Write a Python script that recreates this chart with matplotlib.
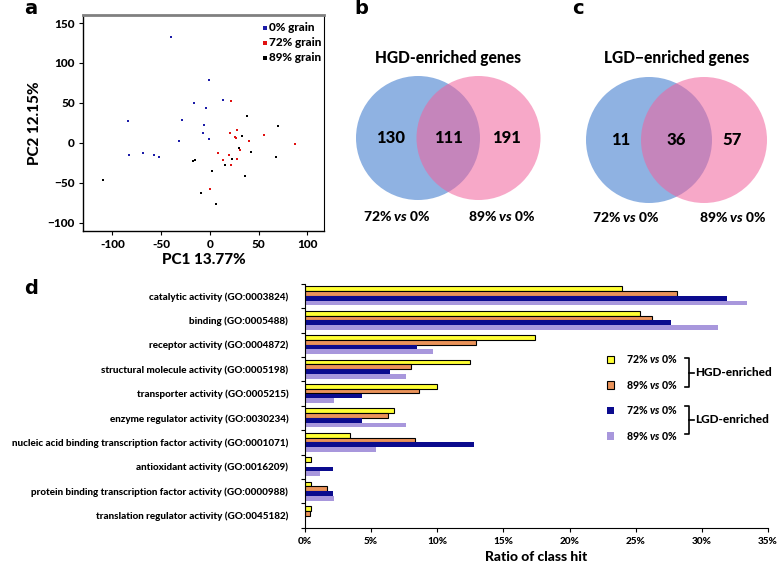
import numpy as np
import matplotlib
matplotlib.use('Agg')
import matplotlib.pyplot as plt
from matplotlib.patches import Circle
from matplotlib.lines import Line2D

# шрифты
plt.rcParams['font.family'] = ['Lato', 'DejaVu Sans']
plt.rcParams['font.weight'] = 'bold'
plt.rcParams['axes.labelweight'] = 'bold'
plt.rcParams['mathtext.fontset'] = 'custom'
plt.rcParams['mathtext.rm'] = 'Lato:black'
plt.rcParams['mathtext.bfit'] = 'Lato:italic:black'

HEAVY = 'black'

# ---- данные панели a (PCA) ----
blue_x = [-40, -1, -16, 13, -4, -29, -6, -7, -1, -32, -84, -83, -69, -57, -52]
blue_y = [132, 79, 50, 54, 44, 29, 23, 12, 5, 3, 27, -15, -12, -15, -18]
red_x = [22, 21, 28, 26, 27, 40, 8, 13, 20, 22, 31, 28, 0, 55, 87]
red_y = [53, 13, 16, 8, 6, 2, -12, -21, -15, -27, -9, -20, -58, 10, -1]
black_x = [38, 70, 33, 30, 42, 23, 16, 2, -17, -15, 68, 36, -9, 6, -110]
black_y = [34, 21, 9, -6, -11, -20, -28, -35, -23, -21, -17, -41, -63, -76, -46]
pca_xticks = [-100, -50, 0, 50, 100]
pca_xticklabels = ['-100', '-50', '0', '50', '100']
pca_yticks = [-100, -50, 0, 50, 100, 150]
pca_yticklabels = ['\u2212100', '\u221250', '0', '50', '100', '150']

# ---- данные диаграмм Венна ----
hgd_counts = [130, 111, 191]
lgd_counts = [11, 36, 57]

# ---- данные панели d ----
categories = [
    'catalytic activity (GO:0003824)',
    'binding (GO:0005488)',
    'receptor activity (GO:0004872)',
    'structural molecule activity (GO:0005198)',
    'transporter activity (GO:0005215)',
    'enzyme regulator activity (GO:0030234)',
    'nucleic acid binding transcription factor activity (GO:0001071)',
    'antioxidant activity (GO:0016209)',
    'protein binding transcription factor activity (GO:0000988)',
    'translation regulator activity (GO:0045182)',
]
hgd_72 = [24.0, 25.3, 17.4, 12.5, 10.0, 6.7, 3.4, 0.45, 0.45, 0.45]
hgd_89 = [28.1, 26.2, 12.9, 8.0, 8.6, 6.3, 8.3, 0.0, 1.7, 0.35]
lgd_72 = [31.9, 27.7, 8.5, 6.4, 4.3, 4.3, 12.8, 2.1, 2.1, 0.0]
lgd_89 = [33.4, 31.2, 9.7, 7.6, 2.2, 7.6, 5.4, 1.1, 2.2, 0.0]
xticks_d = [0, 5, 10, 15, 20, 25, 30, 35]

vs_label_72 = r'72% $\mathbfit{vs}$ 0%'
vs_label_89 = r'89% $\mathbfit{vs}$ 0%'

W, H = 778, 565
fig = plt.figure(figsize=(W / 100, H / 100), dpi=100)

# ================= a =================
ax_a = fig.add_axes([83 / W, 1 - 231 / H, (324 - 83) / W, (231 - 15) / H])
ax_a.scatter(blue_x, blue_y, s=4, marker='s', color='#1c1ca8', linewidths=0, label='0% grain')
ax_a.scatter(red_x, red_y, s=4, marker='s', color='#e01010', linewidths=0, label='72% grain')
ax_a.scatter(black_x, black_y, s=4, marker='s', color='black', linewidths=0, label='89% grain')
ax_a.set_xlim(-130, 117)
ax_a.set_ylim(-110, 160)
ax_a.set_xticks(pca_xticks)
ax_a.set_xticklabels(pca_xticklabels, fontweight=HEAVY)
ax_a.set_yticks(pca_yticks)
ax_a.set_yticklabels(pca_yticklabels, fontweight=HEAVY)
ax_a.tick_params(direction='out', length=3, width=0.8, labelsize=8.5, pad=3)
ax_a.spines['top'].set_color('#808080')
ax_a.spines['top'].set_linewidth(2)
ax_a.spines['right'].set_linewidth(0.8)
ax_a.spines['left'].set_linewidth(1.0)
ax_a.spines['bottom'].set_linewidth(1.0)
ax_a.set_xlabel('PC1 13.77%', fontsize=11, labelpad=2, fontweight=HEAVY)
ax_a.set_ylabel('PC2 12.15%', fontsize=11, labelpad=4, fontweight=HEAVY)
ax_a.legend(loc='upper right', bbox_to_anchor=(1.02, 1.0), frameon=False,
            prop={'size': 8.5, 'weight': HEAVY},
            handlelength=0.4, handletextpad=0.2, labelspacing=0.35, borderaxespad=0.2,
            markerscale=1.4)

# ================= d =================
ax_d = fig.add_axes([305 / W, 1 - 527.7 / H, (768 - 305) / W, (527.7 - 283.7) / H])
y = np.arange(len(categories))
w = 0.195
series = [
    (hgd_72, '#ffff33', 'black', 0.8),
    (hgd_89, '#ea935a', 'black', 0.8),
    (lgd_72, '#0b0b8e', 'none', 0),
    (lgd_89, '#a897dc', 'none', 0),
]
bars = []
for k, (vals, col, ec, lw) in enumerate(series):
    b = ax_d.barh(y + (k - 1.5) * w, vals, height=w, color=col, edgecolor=ec, linewidth=lw)
    bars.append(b)
ax_d.set_xlim(0, 35)
ax_d.set_ylim(len(categories) - 0.5, -0.5)
ax_d.set_yticks(y)
ax_d.set_yticklabels(categories, fontsize=7.1, fontweight=HEAVY)
ax_d.set_yticks(np.arange(-0.5, len(categories), 1), minor=True)
ax_d.tick_params(axis='y', which='major', length=0, pad=12)
ax_d.tick_params(axis='y', which='minor', length=3, direction='out', width=0.8)
ax_d.set_xticks(xticks_d)
ax_d.set_xticklabels([f'{t}%' for t in xticks_d], fontsize=7.2, fontweight=HEAVY)
ax_d.tick_params(axis='x', length=3, direction='out', width=0.8, pad=4)
ax_d.spines['top'].set_visible(False)
ax_d.spines['right'].set_visible(False)
ax_d.set_xlabel('Ratio of class hit', fontsize=10, labelpad=3, fontweight=HEAVY)
ax_d.legend(bars, [vs_label_72, vs_label_89, vs_label_72, vs_label_89],
            loc='upper left', bbox_to_anchor=(607 / W, 1 - 353 / H),
            bbox_transform=fig.transFigure, frameon=False,
            prop={'size': 7.6, 'weight': HEAVY},
            handlelength=0.7, handleheight=0.7, handletextpad=1.1,
            labelspacing=1.28, borderpad=0, borderaxespad=0)

# ========== оверлей для Венна и подписей ==========
ov = fig.add_axes([0, 0, 1, 1])
ov.set_xlim(0, W)
ov.set_ylim(H, 0)
ov.axis('off')

blue_c = '#8fb2e2'
pink_c = '#f2619b'

def venn(cx_l, cx_r, cy, r, counts, title):
    ov.add_patch(Circle((cx_l, cy), r, color=blue_c, lw=0))
    ov.add_patch(Circle((cx_r, cy), r, color=pink_c, alpha=0.55, lw=0))
    xs = [cx_l - r * 0.45, (cx_l + cx_r) / 2, cx_r + r * 0.45]
    for xx, n in zip(xs, counts):
        ov.text(xx, cy, str(n), fontsize=12, ha='center', va='center', fontweight=HEAVY)
    ov.text((cx_l + cx_r) / 2, 58, title, fontsize=11.2, ha='center', va='center',
            fontweight=HEAVY)

venn(418, 478.5, 138, 62, hgd_counts, 'HGD-enriched genes')
venn(649, 704, 140, 63, lgd_counts, 'LGD\u2212enriched genes')
for tx, ty, tl in [(397, 216, vs_label_72), (502, 216, vs_label_89),
                   (626, 217, vs_label_72), (733, 217, vs_label_89)]:
    ov.text(tx, ty, tl, fontsize=10, ha='center', va='center', fontweight=HEAVY)

# скобки легенды
for y0, y1, txt in [(358, 387, 'HGD-enriched'), (405.5, 434, 'LGD-enriched')]:
    ym = (y0 + y1) / 2
    ov.add_line(Line2D([685, 689, 689, 685], [y0, y0, y1, y1], color='black', lw=1.2))
    ov.add_line(Line2D([689, 694], [ym, ym], color='black', lw=1.2))
    ov.text(695, ym, txt, fontsize=8.5, ha='left', va='center', fontweight=HEAVY)

# буквы панелей
for lx, ly, lt in [(31, 9, 'a'), (361, 8, 'b'), (578, 9, 'c'), (31, 288, 'd')]:
    ov.text(lx, ly, lt, fontsize=14, ha='center', va='center', family='DejaVu Sans',
            fontweight='bold')

plt.savefig('out.png', dpi=100)
